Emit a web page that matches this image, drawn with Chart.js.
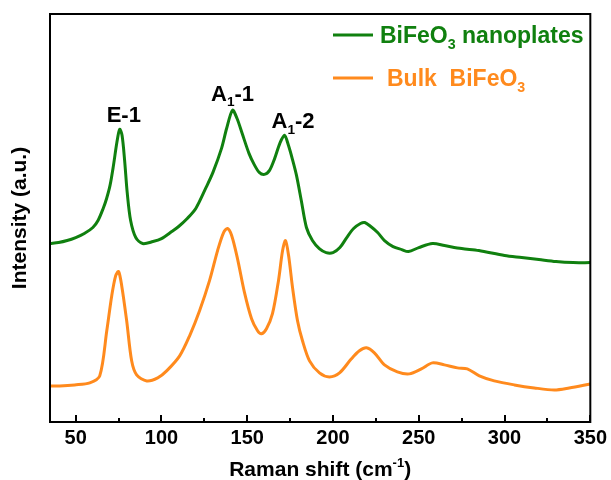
<!DOCTYPE html>
<html>
<head>
<meta charset="utf-8">
<script src="https://cdn.jsdelivr.net/npm/chart.js@4"></script>
<style>
  html, body { margin: 0; padding: 0; background: #fff; }
  #wrap { width: 611px; height: 480px; }
</style>
</head>
<body>
<div id="wrap"><canvas id="ramanChart" width="611" height="480"></canvas></div>
<script>
// Raman shift (cm-1) / intensity (a.u.)
const nanoShift = [35, 40, 45, 50, 55, 60, 63, 66, 68, 70, 72, 74, 75.6, 77, 78.5, 80, 82, 85, 89, 95,
  100, 106, 110, 115, 120, 126, 130, 135, 138, 141.4, 144, 147, 151, 154, 157, 160, 163, 166, 169, 171.7,
  174, 176.5, 178.7, 181.5, 184.5, 188, 192, 196, 200, 204, 208, 212, 216, 218.5, 222, 226, 230, 235, 240, 244,
  250, 258, 265, 275, 285, 300, 310, 320, 330, 340, 350];
const nanoIntensity = [178, 179, 181, 184, 188, 194, 201, 213, 223, 236, 256, 279, 292, 286, 261, 229, 201, 184, 178, 180,
  183, 190, 195, 203, 213, 234, 249, 273, 293, 311, 303, 288, 268, 257, 249, 247, 251, 263, 278, 286,
  276, 261, 246, 221, 194, 181, 173, 169, 169, 174, 184, 193, 198, 199, 195, 189, 181, 175, 172, 170,
  174, 178, 176, 173, 171, 166, 164, 162, 160, 159, 159];

const bulkShift = [35, 40.7, 49.4, 58.2, 64, 68.1, 71, 73.3, 75, 76.8, 79.7, 82.6, 85.5, 91.4, 97.8, 103, 110.6, 116.4,
  122.2, 128, 132.7, 136.2, 138.5, 140.9, 144.3, 148.4, 152.5, 156, 158.3, 161.2, 164.7, 168.2, 170.6, 172.3, 174.1,
  176.4, 179.3, 182.2, 186.3, 192.1, 197.9, 203.8, 210.7, 215.4, 219.5, 224.1, 230, 237.5, 244.5, 251.5, 257.9,
  264.9, 272.5, 278.3, 285.3, 294, 305.7, 317.3, 329, 337.7, 350];
const bulkIntensity = [36, 36, 37, 39, 46, 91, 126, 146, 150, 136, 101, 61, 47, 41, 44, 51, 66, 86,
  111, 141, 171, 189, 193, 186, 163, 129, 103, 91, 88, 93, 108, 141, 171, 181, 166,
  134, 101, 81, 61, 49, 45, 49, 63, 71, 74, 69, 57, 50, 48, 53, 59,
  57, 54, 53, 46, 41, 37, 34, 32, 34, 38];

const xTicks = [50, 100, 150, 200, 250, 300, 350];
const xMinorTicks = [75, 125, 175, 225, 275, 325];

// peak labels: text parts, centre shift, baseline intensity
const peakLabels = [
  [{ t: "E-1" }],
  [{ t: "A" }, { t: "1", sub: true }, { t: "-1" }],
  [{ t: "A" }, { t: "1", sub: true }, { t: "-2" }]
];
const peakAt = [78, 141.4, 176.7];
const peakLabelY = [299, 320, 293];

const seriesNames = [
  [{ t: "BiFeO" }, { t: "3", sub: true }, { t: " nanoplates" }],
  [{ t: "Bulk  BiFeO" }, { t: "3", sub: true }]
];
const GREEN = "#10800f";
const ORANGE = "#ff8a1d";
const FAMILY = '"Liberation Sans", Arial, sans-serif';

function richWidth(ctx, parts, size) {
  let w = 0;
  parts.forEach(p => {
    const s = (p.sub || p.sup) ? size * 0.62 : size;
    ctx.font = `bold ${s}px ${FAMILY}`;
    w += ctx.measureText(p.t).width;
  });
  return w;
}

function drawRich(ctx, parts, x, y, size, color) {
  ctx.fillStyle = color;
  ctx.textAlign = "left";
  ctx.textBaseline = "alphabetic";
  let cx = x;
  parts.forEach(p => {
    const s = (p.sub || p.sup) ? size * 0.62 : size;
    ctx.font = `bold ${s}px ${FAMILY}`;
    const dy = p.sub ? size * 0.24 : (p.sup ? -size * 0.42 : 0);
    ctx.fillText(p.t, cx, y + dy);
    cx += ctx.measureText(p.t).width;
  });
}

const decorations = {
  id: "decorations",
  afterDraw(chart) {
    const { ctx, chartArea: a, scales } = chart;
    const xs = scales.x, ys = scales.y;
    ctx.save();

    // frame
    ctx.strokeStyle = "#000";
    ctx.lineWidth = 2;
    ctx.strokeRect(a.left, a.top, a.right - a.left, a.bottom - a.top);

    // inward ticks on bottom axis
    ctx.beginPath();
    xTicks.forEach(v => {
      const px = Math.round(xs.getPixelForValue(v));
      ctx.moveTo(px, a.bottom); ctx.lineTo(px, a.bottom - 7);
    });
    xMinorTicks.forEach(v => {
      const px = Math.round(xs.getPixelForValue(v));
      ctx.moveTo(px, a.bottom); ctx.lineTo(px, a.bottom - 4);
    });
    ctx.stroke();

    // peak labels
    peakLabels.forEach((parts, i) => {
      const w = richWidth(ctx, parts, 22);
      drawRich(ctx, parts, xs.getPixelForValue(peakAt[i]) - w / 2, ys.getPixelForValue(peakLabelY[i]), 22, "#000");
    });

    // legend
    const colors = [GREEN, ORANGE];
    const rowY = [a.top + 21, a.top + 64];
    const textX = [380, 387];
    seriesNames.forEach((parts, i) => {
      ctx.strokeStyle = colors[i];
      ctx.lineWidth = 3;
      ctx.beginPath();
      ctx.moveTo(333, rowY[i]); ctx.lineTo(373, rowY[i]);
      ctx.stroke();
      drawRich(ctx, parts, textX[i], rowY[i] + 8, 23, colors[i]);
    });

    // axis titles
    const xt = [{ t: "Raman shift (cm" }, { t: "-1", sup: true }, { t: ")" }];
    const xw = richWidth(ctx, xt, 21);
    drawRich(ctx, xt, (a.left + a.right) / 2 - xw / 2, 476, 21, "#000");

    ctx.translate(20, (a.top + a.bottom) / 2);
    ctx.rotate(-Math.PI / 2);
    ctx.font = `bold 21px ${FAMILY}`;
    ctx.fillStyle = "#000";
    ctx.textAlign = "center";
    ctx.textBaseline = "middle";
    ctx.fillText("Intensity (a.u.)", 0, 0);
    ctx.restore();
  }
};

new Chart(document.getElementById("ramanChart"), {
  type: "line",
  data: {
    datasets: [
      {
        label: "BiFeO3 nanoplates",
        data: nanoShift.map((x, i) => ({ x: x, y: nanoIntensity[i] })),
        borderColor: GREEN,
        borderWidth: 3,
        pointRadius: 0,
        tension: 0.3
      },
      {
        label: "Bulk BiFeO3",
        data: bulkShift.map((x, i) => ({ x: x, y: bulkIntensity[i] })),
        borderColor: ORANGE,
        borderWidth: 3,
        pointRadius: 0,
        tension: 0.3
      }
    ]
  },
  options: {
    responsive: false,
    animation: false,
    layout: { padding: { left: 50, right: 20, top: 14, bottom: 26 } },
    plugins: { legend: { display: false }, tooltip: { enabled: false } },
    scales: {
      x: {
        type: "linear",
        min: 35,
        max: 350,
        afterBuildTicks: (scale) => { scale.ticks = xTicks.map(v => ({ value: v })); },
        ticks: {
          color: "#000",
          padding: 4,
          maxRotation: 0,
          font: { family: FAMILY, size: 20, weight: "bold" }
        },
        grid: { display: false, drawTicks: false },
        border: { display: true, color: "#000", width: 2 }
      },
      y: {
        display: false,
        min: 0,
        max: 407
      }
    }
  },
  plugins: [decorations]
});
</script>
</body>
</html>
